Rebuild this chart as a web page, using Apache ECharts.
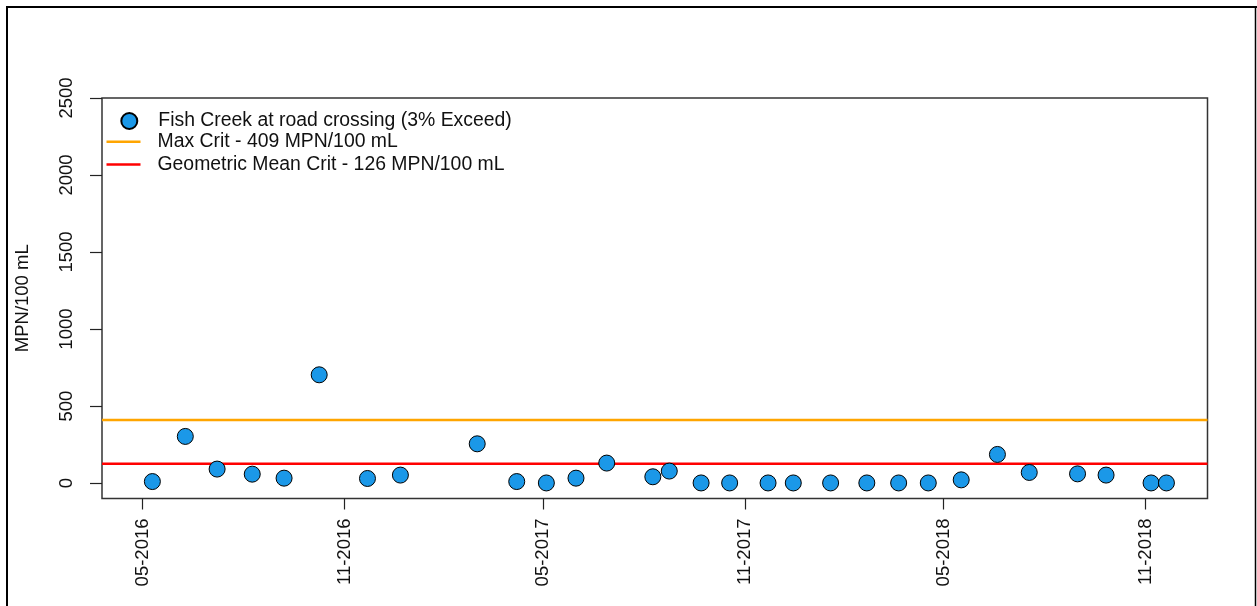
<!DOCTYPE html>
<html>
<head>
<meta charset="utf-8">
<script src="https://cdn.jsdelivr.net/npm/echarts@6/dist/echarts.min.js"></script>
<style>
  html, body { margin: 0; padding: 0; background: #fff; }
  #chart { width: 1257px; height: 606px; }
</style>
</head>
<body>
<div id="chart"></div>
<script>
// E. coli samples, Fish Creek at road crossing
const sampleDates = [
  '2016-05-10', '2016-06-09', '2016-07-08', '2016-08-09', '2016-09-07', '2016-10-09',
  '2016-11-22', '2016-12-22', '2017-03-02', '2017-04-07', '2017-05-04', '2017-05-31',
  '2017-06-28', '2017-08-09', '2017-08-24', '2017-09-22', '2017-10-18', '2017-11-22',
  '2017-12-15', '2018-01-18', '2018-02-20', '2018-03-21', '2018-04-17', '2018-05-17',
  '2018-06-19', '2018-07-18', '2018-08-31', '2018-09-26', '2018-11-06', '2018-11-20'
];
const mpnValues = [
  10, 303, 91, 58, 32, 703,
  30, 52, 255, 10, 1, 32,
  130, 41, 78, 1, 1, 1,
  1, 1, 1, 1, 1, 21,
  186, 69, 60, 52, 1, 1
];
const maxCrit = 409;
const geoMeanCrit = 126;
const seriesNames = [
  'Fish Creek at road crossing (3% Exceed)',
  'Max Crit - 409 MPN/100 mL',
  'Geometric Mean Crit - 126 MPN/100 mL'
];
const monthTicks = ['2016-05-01', '2016-11-01', '2017-05-01', '2017-11-01', '2018-05-01', '2018-11-01'];
const yTicks = [0, 500, 1000, 1500, 2000, 2500];
const dateRange = ['2016-03-25T02:24', '2018-12-27T10:00'];

// parse 'YYYY-MM-DD[THH:MM]' as local time
function toTs(s) {
  const parts = s.split('T');
  const [y, m, d] = parts[0].split('-').map(Number);
  const [hh, mi] = (parts[1] || '00:00').split(':').map(Number);
  return new Date(y, m - 1, d, hh, mi).getTime();
}

const xMin = toTs(dateRange[0]);
const xMax = toTs(dateRange[1]);
const points = sampleDates.map((d, i) => [toTs(d), mpnValues[i]]);
const tickStamps = monthTicks.map(toTs);
const FONT = '"Liberation Sans", Arial, sans-serif';
const TEXT = '#111';
const legendText = { fontFamily: FONT, fontSize: 19.4, color: TEXT };

const chart = echarts.init(document.getElementById('chart'), null, { renderer: 'canvas' });
chart.setOption({
  animation: false,
  backgroundColor: '#fff',
  textStyle: { fontFamily: FONT, color: TEXT },
  grid: {
    left: 102, right: 49.5, top: 98, bottom: 107.5,
    show: true, borderColor: '#333', borderWidth: 1.5, backgroundColor: 'transparent'
  },
  legend: [
    {
      // point entry
      orient: 'vertical',
      left: 115.3, top: 106.5,
      itemWidth: 16, itemHeight: 16,
      textStyle: Object.assign({ padding: [0, 0, 0, 16] }, legendText),
      data: [{ name: seriesNames[0], icon: 'circle' }]
    },
    {
      // reference line entries
      orient: 'vertical',
      left: 101.5, top: 127.2,
      itemWidth: 34, itemHeight: 2.5, itemGap: 3.8,
      textStyle: Object.assign({ padding: [0, 0, 0, 12] }, legendText),
      data: [
        { name: seriesNames[1], icon: 'rect' },
        { name: seriesNames[2], icon: 'rect' }
      ]
    }
  ],
  xAxis: {
    type: 'value',
    min: xMin, max: xMax,
    splitLine: { show: false },
    axisLine: { show: false, onZero: false },
    axisTick: {
      show: true, length: 11, lineStyle: { color: '#222', width: 1.2 },
      customValues: tickStamps
    },
    axisLabel: {
      rotate: 90, margin: 20, fontSize: 18.5, fontFamily: FONT, color: TEXT,
      customValues: tickStamps,
      formatter: function (val) {
        const d = new Date(val);
        return String(d.getMonth() + 1).padStart(2, '0') + '-' + d.getFullYear();
      }
    }
  },
  yAxis: {
    type: 'value',
    min: -100, max: 2500,
    name: 'MPN/100 mL',
    nameLocation: 'middle',
    nameRotate: 90,
    nameGap: 70,
    nameTextStyle: { fontSize: 18.5, fontFamily: FONT, color: TEXT },
    splitLine: { show: false },
    axisLine: { show: false, onZero: false },
    axisTick: {
      show: true, length: 12, lineStyle: { color: '#222', width: 1.2 },
      customValues: yTicks
    },
    axisLabel: {
      rotate: 90, margin: 26, fontSize: 18.5, fontFamily: FONT, color: TEXT,
      customValues: yTicks,
      formatter: function (val) { return String(val); }
    }
  },
  graphic: [
    { type: 'line', shape: { x1: 7, y1: 6, x2: 7, y2: 606 }, style: { stroke: '#000', lineWidth: 2 } },
    { type: 'line', shape: { x1: 6, y1: 7, x2: 1257, y2: 7 }, style: { stroke: '#000', lineWidth: 2 } },
    { type: 'line', shape: { x1: 1255.5, y1: 6, x2: 1255.5, y2: 606 }, style: { stroke: '#000', lineWidth: 1.5 } }
  ],
  series: [
    {
      name: seriesNames[0],
      type: 'scatter',
      z: 5,
      symbol: 'circle',
      symbolSize: 16,
      itemStyle: { color: '#1B98E8', borderColor: '#000', borderWidth: 1, opacity: 1 },
      data: points
    },
    {
      name: seriesNames[1],
      type: 'line',
      z: 3,
      symbol: 'none',
      silent: true,
      lineStyle: { color: '#FFA500', width: 2.5 },
      itemStyle: { color: '#FFA500' },
      data: [[xMin, maxCrit], [xMax, maxCrit]]
    },
    {
      name: seriesNames[2],
      type: 'line',
      z: 3,
      symbol: 'none',
      silent: true,
      lineStyle: { color: '#FF0000', width: 2.5 },
      itemStyle: { color: '#FF0000' },
      data: [[xMin, geoMeanCrit], [xMax, geoMeanCrit]]
    }
  ]
});
</script>
</body>
</html>
